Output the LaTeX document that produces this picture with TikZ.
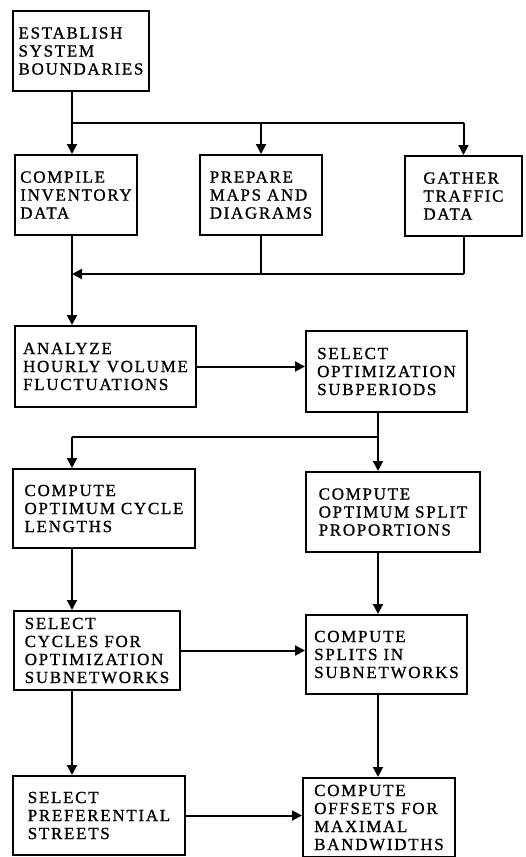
\documentclass[tikz,border=0pt]{standalone}
\usepackage{fontspec}
\newfontfamily\flowfont[LetterSpace=10, FakeBold=1]{Liberation Serif}
\usepackage{tikz}
\usetikzlibrary{arrows.meta}

\begin{document}
\begin{tikzpicture}[x=1pt, y=-1pt, >={Triangle[length=10pt,width=10pt]},
    box/.style={draw, line width=2pt, anchor=north west, align=left, inner xsep=2pt,
      font={\flowfont\fontsize{17pt}{18pt}\selectfont}},
    link/.style={line width=2pt},
    flow/.style={->, line width=2pt}]
  \useasboundingbox (0,0) rectangle (525,857);

  % Boites
  \node[box, minimum width=136pt, minimum height=80pt] (est) at (12,10) {ESTABLISH\\SYSTEM\\BOUNDARIES};
  \node[box, minimum width=122pt, minimum height=80pt] (comp) at (14,154) {COMPILE\\INVENTORY\\DATA};
  \node[box, minimum width=122pt, minimum height=80pt] (prep) at (199,154) {PREPARE\\MAPS AND\\DIAGRAMS};
  \node[box, minimum width=117pt, minimum height=80pt] (gath) at (404,155) {GATHER\\TRAFFIC\\DATA};
  \node[box, minimum width=181pt, minimum height=81pt] (anal) at (14,325) {ANALYZE\\HOURLY VOLUME\\FLUCTUATIONS};
  \node[box, minimum width=161pt, minimum height=81pt] (sopt) at (305,330) {SELECT\\OPTIMIZATION\\SUBPERIODS};
  \node[box, minimum width=182pt, minimum height=79pt] (ccyc) at (12,468) {COMPUTE\\OPTIMUM CYCLE\\LENGTHS};
  \node[box, minimum width=174pt, minimum height=80pt] (cspl) at (305,471) {COMPUTE\\OPTIMUM SPLIT\\PROPORTIONS};
  \node[box, minimum width=166pt, minimum height=79pt] (scyc) at (13,610) {SELECT\\CYCLES FOR\\OPTIMIZATION\\SUBNETWORKS};
  \node[box, minimum width=161pt, minimum height=79pt] (ssub) at (305,614) {COMPUTE\\SPLITS IN\\SUBNETWORKS};
  \node[box, minimum width=172pt, minimum height=79pt] (spref) at (12,775) {SELECT\\PREFERENTIAL\\STREETS};
  \node[box, minimum width=152pt, minimum height=79pt] (coff) at (302,777) {COMPUTE\\OFFSETS FOR\\MAXIMAL\\BANDWIDTHS};

  % Colonnes et barres
  \coordinate (lcol) at (72,0);
  \coordinate (rcol) at (378,0);
  \coordinate (bus1) at (0,123);
  \coordinate (bus2) at (0,274);
  \coordinate (bus3) at (0,437);

  % Repartition vers les trois taches
  \draw[link] (lcol |- est.south) -- (lcol |- bus1) -- (gath.north |- bus1);
  \draw[flow] (lcol |- bus1) -- (lcol |- comp.north);
  \draw[flow] (prep.north |- bus1) -- (prep.north);
  \draw[flow] (gath.north |- bus1) -- (gath.north);

  % Regroupement
  \draw[link] (prep.south) -- (prep.south |- bus2);
  \draw[link] (gath.south) -- (gath.south |- bus2);
  \draw[flow] (gath.south |- bus2) -- (lcol |- bus2);
  \draw[flow] (lcol |- comp.south) -- (lcol |- anal.north);
  \draw[flow] (anal.east) -- (anal.east -| sopt.west);

  % Sous-periodes
  \draw[link] (rcol |- sopt.south) -- (rcol |- bus3) -- (lcol |- bus3);
  \draw[flow] (lcol |- bus3) -- (lcol |- ccyc.north);
  \draw[flow] (rcol |- bus3) -- (rcol |- cspl.north);

  % Sous-reseaux
  \draw[flow] (lcol |- ccyc.south) -- (lcol |- scyc.north);
  \draw[flow] (rcol |- cspl.south) -- (rcol |- ssub.north);
  \draw[flow] (scyc.east) -- (scyc.east -| ssub.west);
  \draw[flow] (lcol |- scyc.south) -- (lcol |- spref.north);
  \draw[flow] (rcol |- ssub.south) -- (rcol |- coff.north);
  \draw[flow] (spref.east) -- (spref.east -| coff.west);
\end{tikzpicture}
\end{document}
